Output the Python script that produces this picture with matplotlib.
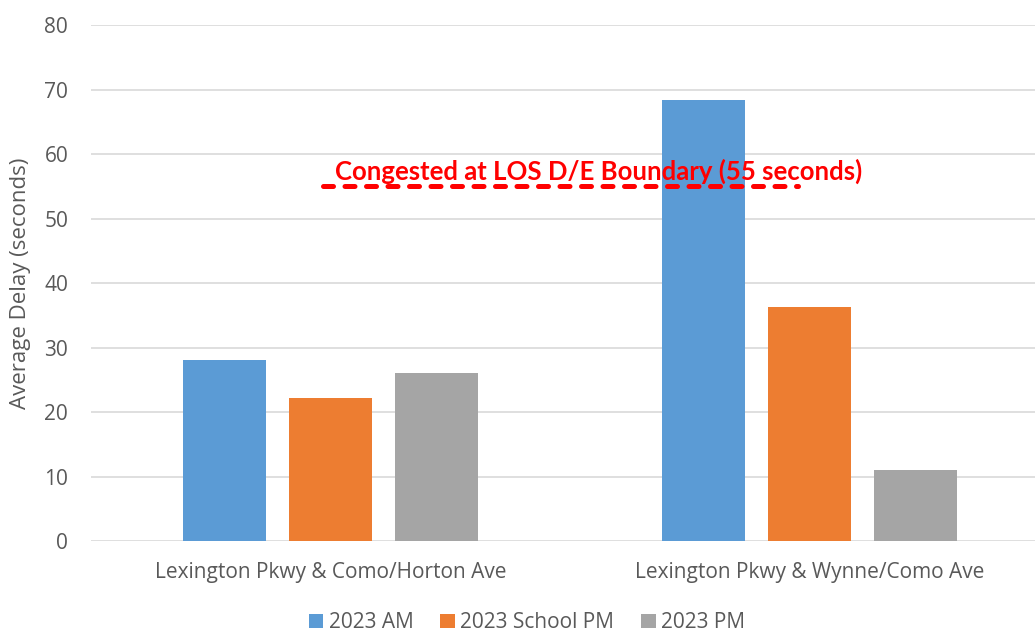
import matplotlib
matplotlib.use("Agg")
import matplotlib.pyplot as plt
import numpy as np

categories = ["Lexington Pkwy & Como/Horton Ave", "Lexington Pkwy & Wynne/Como Ave"]
series_names = ["2023 AM", "2023 School PM", "2023 PM"]
am = [28.1, 68.4]
school_pm = [22.2, 36.3]
pm = [26.0, 11.0]
threshold = 55
threshold_label = "Congested at LOS D/E Boundary (55 seconds)"
yticks = [0, 10, 20, 30, 40, 50, 60, 70, 80]

colors = ["#5B9BD5", "#ED7D31", "#A5A5A5"]
tick_color = "#595959"

plt.rcParams['font.family'] = ['Open Sans', 'DejaVu Sans']

fig = plt.figure(figsize=(10.35, 6.33), dpi=100)
ax = fig.add_axes([0.088, 0.1453, 0.9255, 0.8152])

x = np.arange(len(categories))
width = 0.173
offset = 0.221
for i, (vals, name) in enumerate(zip([am, school_pm, pm], series_names)):
    ax.bar(x + (i - 1) * offset, vals, width, color=colors[i], label=name, zorder=3)

ax.set_xlim(-0.5, 1.5)
ax.set_ylim(0, 80)
ax.set_yticks(yticks)
ax.set_xticks(x)
ax.set_xticklabels(categories)
ax.grid(axis='y', color='#D9D9D9', linewidth=1.2, zorder=0)
for s in ax.spines.values():
    s.set_visible(False)
ax.tick_params(axis='both', length=0, labelsize=15, labelcolor=tick_color)
ax.tick_params(axis='y', pad=16.5)
ax.tick_params(axis='x', pad=15)
ax.set_ylabel("Average Delay (seconds)", fontsize=16, color=tick_color)
ax.yaxis.set_label_coords(-0.063, 0.5)

ax.plot([-0.015, 0.975], [threshold, threshold], color='red', linewidth=3.6,
        linestyle=(0, (2.0, 2.3)), dash_capstyle='round', zorder=4)
ax.text(0.56, 57.3, threshold_label, color='red', fontsize=18.5, fontweight='bold',
        ha='center', va='center', family=['Lato', 'DejaVu Sans'], zorder=5)

handles, labels = ax.get_legend_handles_labels()
fig.legend(handles, labels, loc='center', bbox_to_anchor=(0.509, 0.016), ncol=3,
           frameon=False, fontsize=15, labelcolor=tick_color, handlelength=0.7,
           handleheight=0.7, handletextpad=0.25, columnspacing=1.3)

fig.savefig("out.png", dpi=100)
